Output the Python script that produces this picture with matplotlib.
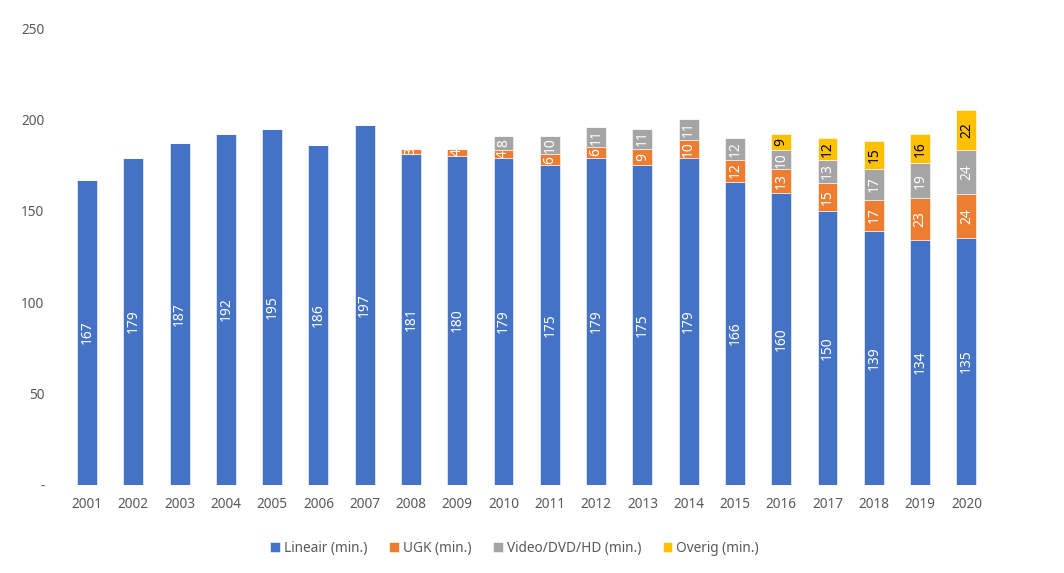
import matplotlib.pyplot as plt
import numpy as np

plt.rcParams['font.family'] = ['Noto Sans', 'DejaVu Sans']

years = [str(y) for y in range(2001, 2021)]
lineair = [167, 179, 187, 192, 195, 186, 197, 181, 180, 179,
           175, 179, 175, 179, 166, 160, 150, 139, 134, 135]
ugk = [0, 0, 0, 0, 0, 0, 0, 3, 4, 4, 6, 6, 9, 10, 12, 13, 15, 17, 23, 24]
video = [0, 0, 0, 0, 0, 0, 0, 0, 0, 8, 10, 11, 11, 11, 12, 10, 13, 17, 19, 24]
overig = [0, 0, 0, 0, 0, 0, 0, 0, 0, 0, 0, 0, 0, 0, 0, 9, 12, 15, 16, 22]

series = [
    ("Lineair (min.)", lineair, "#4472C4", "white"),
    ("UGK (min.)", ugk, "#ED7D31", "white"),
    ("Video/DVD/HD (min.)", video, "#A5A5A5", "white"),
    ("Overig (min.)", overig, "#FFC000", "black"),
]

fig = plt.figure(figsize=(10.64, 5.73), dpi=100)
ax = fig.add_axes([0.060, 0.1536, 0.870, 0.7975])

x = np.arange(len(years))
bottom = np.zeros(len(years))
for name, vals, color, tcolor in series:
    vals = np.array(vals, dtype=float)
    ax.bar(x, vals, 0.43, bottom=bottom, color=color, label=name,
           edgecolor="white", linewidth=0.4)
    for xi, b, v in zip(x, bottom, vals):
        if v > 0:
            ax.text(xi, b + v / 2, f"{int(v)}", rotation=90, ha="center",
                    va="center", color=tcolor, fontsize=10)
    bottom += vals

ax.set_xlim(-0.5, len(years) - 0.5)
ax.set_ylim(0, 250)
ax.set_xticks(x)
ax.set_xticklabels(years)
ax.set_yticks([0, 50, 100, 150, 200, 250])
ax.set_yticklabels(["-", "50", "100", "150", "200", "250"])
ax.tick_params(axis="both", length=0, colors="#595959", labelsize=9.8)
ax.tick_params(axis="y", pad=14)
ax.tick_params(axis="x", pad=9)
for s in ax.spines.values():
    s.set_visible(False)

ax.legend(loc="upper center", bbox_to_anchor=(0.487, -0.095), ncol=4,
          frameon=False, fontsize=9.8, handlelength=0.7, handleheight=0.7,
          handletextpad=0.3, columnspacing=1.6, labelcolor="#595959")

fig.savefig("out.png")
